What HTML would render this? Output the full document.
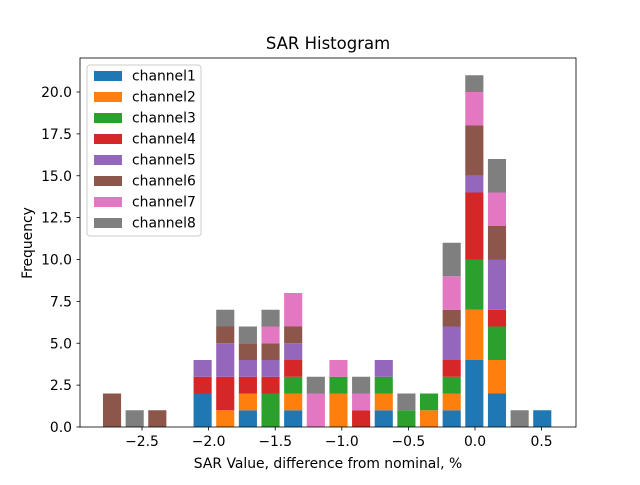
<!DOCTYPE html>
<html><head><meta charset="utf-8"><style>
body{margin:0;background:#fff;}
svg text{font-family:"DejaVu Sans","Liberation Sans",sans-serif;fill:#000;}
</style></head><body>
<svg id="chart" width="640" height="480" viewBox="0 0 640 480" xmlns="http://www.w3.org/2000/svg">
<rect width="640" height="480" fill="#fff"/>
<text x="328" y="49" font-size="16.5" text-anchor="middle">SAR Histogram</text>
<g id="bars"></g>
<rect x="80" y="58" width="496" height="369" fill="none" stroke="#000" stroke-width="0.8"/>
<g id="xaxis"></g><g id="yaxis"></g>
<text x="328" y="468" font-size="13.9" text-anchor="middle">SAR Value, difference from nominal, %</text>
<text transform="translate(32,243) rotate(-90)" font-size="13.9" text-anchor="middle">Frequency</text>
<g id="legend"></g>
</svg>
<script>
const binCenters=[-2.725,-2.555,-2.385,-2.215,-2.045,-1.875,-1.705,-1.535,-1.365,-1.195,-1.025,-0.855,-0.685,-0.515,-0.345,-0.175,-0.005,0.165,0.335,0.505];
const seriesNames=["channel1","channel2","channel3","channel4","channel5","channel6","channel7","channel8"];
const ch1=[0,0,0,0,2,0,1,0,1,0,0,0,1,0,0,1,4,2,0,1];
const ch2=[0,0,0,0,0,1,1,0,1,0,2,0,1,0,1,1,3,2,0,0];
const ch3=[0,0,0,0,0,0,0,2,1,0,1,0,1,1,1,1,3,2,0,0];
const ch4=[0,0,0,0,1,2,1,1,1,0,0,1,0,0,0,1,4,1,0,0];
const ch5=[0,0,0,0,1,2,1,1,1,0,0,0,1,0,0,2,1,3,0,0];
const ch6=[2,0,1,0,0,1,1,1,1,0,0,0,0,0,0,1,3,2,0,0];
const ch7=[0,0,0,0,0,0,0,1,2,2,1,1,0,0,0,2,2,2,0,0];
const ch8=[0,1,0,0,0,1,1,1,0,1,0,1,0,1,0,2,1,2,1,0];
const xTicks=[-2.5,-2.0,-1.5,-1.0,-0.5,0.0,0.5];
const xTickLabels=["\u22122.5","\u22122.0","\u22121.5","\u22121.0","\u22120.5","0.0","0.5"];
const yTicks=[0,2.5,5,7.5,10,12.5,15,17.5,20];
const yTickLabels=["0.0","2.5","5.0","7.5","10.0","12.5","15.0","17.5","20.0"];
const colors=["#1f77b4","#ff7f0e","#2ca02c","#d62728","#9467bd","#8c564b","#e377c2","#7f7f7f"];
const series=[ch1,ch2,ch3,ch4,ch5,ch6,ch7,ch8];
const NS="http://www.w3.org/2000/svg";
const binW=0.17;
function xs(v){return 475+v*133.2;}
function ys(v){return 427-v*16.75;}
function mk(t,a,p){const e=document.createElementNS(NS,t);for(const k in a)e.setAttribute(k,a[k]);p.appendChild(e);return e;}
const gb=document.getElementById('bars');
const base=binCenters.map(()=>0);
series.forEach((s,si)=>{
  s.forEach((v,i)=>{
    if(v<=0)return;
    const x0=xs(binCenters[i]-binW*0.4),x1=xs(binCenters[i]+binW*0.4);
    const y0=ys(base[i]+v),y1=ys(base[i]);
    const r=mk('rect',{x:x0,y:y0,width:x1-x0,height:y1-y0,fill:colors[si]},gb);
    
    
    base[i]+=v;
  });
});
const gx=document.getElementById('xaxis');
xTicks.forEach((t,i)=>{
  const x=xs(t);
  const l=mk('line',{x1:x,x2:x,y1:427,y2:430.5,stroke:'#000','stroke-width':0.8},gx);
  
  
  const tx=mk('text',{x:x,y:446,'font-size':13.9,'text-anchor':'middle'},gx);
  tx.textContent=xTickLabels[i];
  
  
});
const gy=document.getElementById('yaxis');
yTicks.forEach((t,i)=>{
  const y=ys(t);
  const l=mk('line',{x1:76.5,x2:80,y1:y,y2:y,stroke:'#000','stroke-width':0.8},gy);
  
  
  const tx=mk('text',{x:72,y:y+5,'font-size':13.9,'text-anchor':'end'},gy);
  tx.textContent=yTickLabels[i];
  
  
});
const gl=document.getElementById('legend');
const box=mk('rect',{x:87,y:65,width:114,height:171,rx:3,fill:'#fff','fill-opacity':0.8,stroke:'#ccc','stroke-width':1},gl);


seriesNames.forEach((n,i)=>{
  const y=75+i*21;
  const sw=mk('rect',{x:94,y:y-4,width:28,height:10,fill:colors[i]},gl);
  
  
  const tx=mk('text',{x:132,y:y+5.5,'font-size':13.9},gl);
  tx.textContent=n;
  
  
});
</script>
</body></html>
